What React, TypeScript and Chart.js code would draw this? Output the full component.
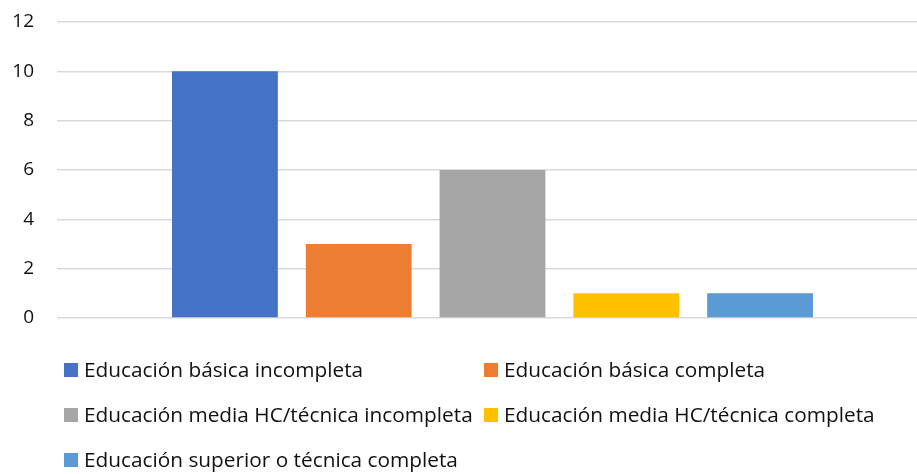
import { useEffect, useRef } from 'react';
import { Chart, registerables } from 'chart.js';

Chart.register(...registerables);

const categories = [''];
const seriesNames = [
  'Educación básica incompleta',
  'Educación básica completa',
  'Educación media HC/técnica incompleta',
  'Educación media HC/técnica completa',
  'Educación superior o técnica completa',
];
const seriesValues = [10, 3, 6, 1, 1];
const seriesColors = ['#4472C4', '#ED7D31', '#A5A5A5', '#FFC000', '#5B9BD5'];
const yMin = 0;
const yMax = 12;
const yStep = 2;

const FONT = '"Open Sans", "Noto Sans", sans-serif';
const TEXT_COLOR = '#111111';

const gridLegend = {
  id: 'gridLegend',
  afterDraw(chart: any) {
    const ctx = chart.ctx as CanvasRenderingContext2D;
    const datasets = chart.data.datasets;
    const colX = [64, 484];
    const rowY = [370, 415, 460];
    const box = 14;
    ctx.save();
    ctx.font = `20.8px ${FONT}`;
    ctx.textBaseline = 'middle';
    ctx.textAlign = 'left';
    datasets.forEach((ds: any, i: number) => {
      const col = i % 2;
      const row = Math.floor(i / 2);
      const x = colX[col];
      const y = rowY[row];
      ctx.fillStyle = ds.backgroundColor;
      ctx.fillRect(x, y - box / 2, box, box);
      ctx.fillStyle = TEXT_COLOR;
      ctx.fillText(ds.label, x + 20, y + 1);
    });
    ctx.restore();
  },
};

export default function App() {
  const canvasRef = useRef<HTMLCanvasElement | null>(null);

  useEffect(() => {
    if (!canvasRef.current) return;
    const chart = new Chart(canvasRef.current, {
      type: 'bar',
      data: {
        labels: categories,
        datasets: seriesNames.map((name, i) => ({
          label: name,
          data: [seriesValues[i]],
          backgroundColor: seriesColors[i],
          borderWidth: 0,
          categoryPercentage: 0.768,
          barPercentage: 0.791,
        })),
      },
      options: {
        animation: false,
        responsive: false,
        maintainAspectRatio: false,
        layout: { padding: { top: 22, bottom: 156, left: 0, right: 0 } },
        plugins: {
          legend: { display: false },
          tooltip: { enabled: false },
          title: { display: false },
        },
        scales: {
          x: { display: false },
          y: {
            min: yMin,
            max: yMax,
            afterFit(scale: any) {
              scale.width = 57;
              scale.paddingTop = 0;
              scale.paddingBottom = 0;
            },
            border: { display: false },
            grid: { color: '#d9d9d9', lineWidth: 1.5, drawTicks: false },
            ticks: {
              stepSize: yStep,
              padding: 23,
              color: TEXT_COLOR,
              font: { family: FONT, size: 19 },
            },
          },
        },
      },
      plugins: [gridLegend],
    });
    return () => chart.destroy();
  }, []);

  return (
    <div style={{ position: 'absolute', left: 0, top: 0, width: 917, height: 474, overflow: 'hidden', background: '#fff' }}>
      <canvas ref={canvasRef} width={928} height={474} style={{ display: 'block' }} />
    </div>
  );
}
